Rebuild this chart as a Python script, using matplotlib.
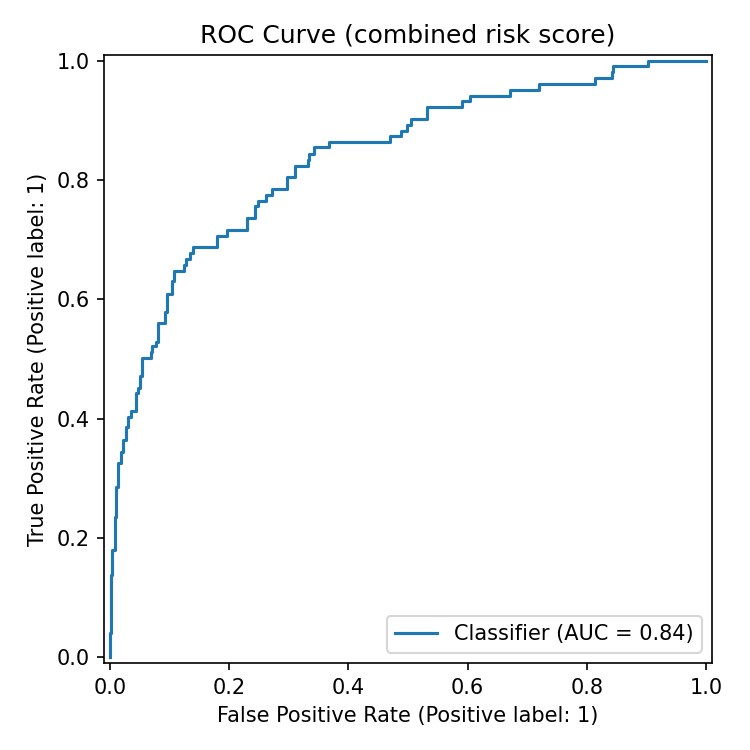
import matplotlib
matplotlib.use("Agg")
import matplotlib.pyplot as plt

# ROC curve corner points (fpr, tpr)
fpr = [0.0, 0.0, 0.002, 0.004, 0.008, 0.010, 0.013, 0.014, 0.018, 0.021,
       0.027, 0.031, 0.035, 0.044, 0.047, 0.050, 0.053, 0.068, 0.071, 0.078,
       0.081, 0.092, 0.096, 0.104, 0.107, 0.125, 0.128, 0.135, 0.139, 0.180,
       0.197, 0.230, 0.244, 0.249, 0.262, 0.271, 0.297, 0.311, 0.332, 0.334,
       0.342, 0.367, 0.470, 0.488, 0.498, 0.505, 0.532, 0.591, 0.604, 0.671,
       0.719, 0.814, 0.842, 0.844, 0.902, 1.0]
tpr = [0.0, 0.040, 0.138, 0.180, 0.235, 0.286, 0.294, 0.326, 0.344, 0.364,
       0.386, 0.403, 0.412, 0.443, 0.451, 0.471, 0.501, 0.511, 0.521, 0.529,
       0.560, 0.578, 0.609, 0.630, 0.648, 0.658, 0.667, 0.677, 0.688, 0.706,
       0.716, 0.736, 0.757, 0.765, 0.775, 0.785, 0.806, 0.824, 0.834, 0.844,
       0.855, 0.864, 0.874, 0.883, 0.893, 0.903, 0.923, 0.933, 0.941, 0.951,
       0.961, 0.971, 0.982, 0.992, 1.0, 1.0]
auc = 0.84

fig = plt.figure(figsize=(5, 5), dpi=150)
ax = fig.add_axes([0.1387, 0.116, 0.8107, 0.8107])
ax.plot(fpr, tpr, drawstyle="steps-post", color="C0",
        label=f"Classifier (AUC = {auc:.2f})")
ax.set_xlim(-0.01, 1.01)
ax.set_ylim(-0.01, 1.01)
ax.set_aspect("equal")
ax.set_xlabel("False Positive Rate (Positive label: 1)")
ax.set_ylabel("True Positive Rate (Positive label: 1)")
ax.set_title("ROC Curve (combined risk score)")
ax.legend(loc="lower right")

fig.savefig("out.png", dpi=150)
